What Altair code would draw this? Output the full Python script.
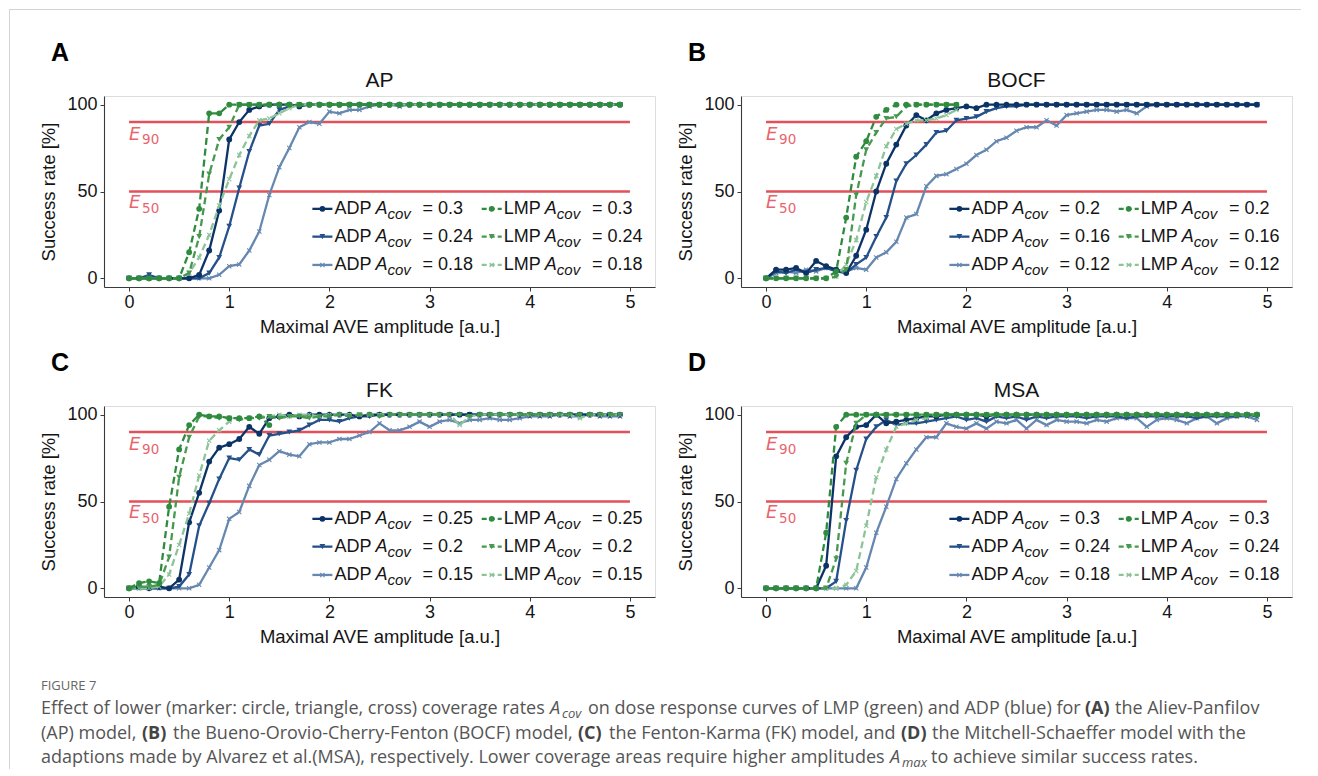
import altair as alt
import pandas as pd

# ---------------- data ----------------
X = [0.0, 0.1, 0.2, 0.3, 0.4, 0.5, 0.6, 0.7, 0.8, 0.9,
     1.0, 1.1, 1.2, 1.3, 1.4, 1.5, 1.6, 1.7, 1.8, 1.9,
     2.0, 2.1, 2.2, 2.3, 2.4, 2.5, 2.6, 2.7, 2.8, 2.9,
     3.0, 3.1, 3.2, 3.3, 3.4, 3.5, 3.6, 3.7, 3.8, 3.9,
     4.0, 4.1, 4.2, 4.3, 4.4, 4.5, 4.6, 4.7, 4.8, 4.9]

# Panel A: AP
AP_COV = ["0.3", "0.24", "0.18"]
AP_ADP_HI = [0, 0, 0, 0, 0, 0, 0, 2, 16, 39,
             80, 90, 97, 99, 100, 100, 100, 99, 100, 100,
             100, 100, 100, 100, 100, 100, 100, 100, 100, 100,
             100, 100, 100, 100, 100, 100, 100, 100, 100, 100,
             100, 100, 100, 100, 100, 100, 100, 100, 100, 100]
AP_ADP_MID = [0, 0, 2, 0, 0, 0, 0, 0, 3, 12,
              30, 52, 73, 88, 89, 97, 99, 100, 100, 100,
              100, 100, 100, 100, 100, 100, 100, 100, 100, 100,
              100, 100, 100, 100, 100, 100, 100, 100, 100, 100,
              100, 100, 100, 100, 100, 100, 100, 100, 100, 100]
AP_ADP_LO = [0, 0, 0, 0, 0, 0, 0, 0, 0, 2,
             7, 8, 16, 27, 48, 64, 75, 87, 90, 89,
             96, 95, 97, 97, 99, 100, 100, 99, 100, 100,
             100, 100, 100, 100, 100, 100, 100, 100, 100, 100,
             100, 100, 100, 100, 100, 100, 100, 100, 100, 100]
AP_LMP_HI = [0, 0, 0, 0, 0, 0, 15, 40, 95, 95,
             100, 100, 100, 100, 100, 100, 100, 100, 100, 100,
             100, 100, 100, 100, 100, 100, 100, 100, 100, 100,
             100, 100, 100, 100, 100, 100, 100, 100, 100, 100,
             100, 100, 100, 100, 100, 100, 100, 100, 100, 100]
AP_LMP_MID = [0, 0, 0, 0, 0, 0, 3, 24, 60, 80,
              87, 100, 100, 100, 100, 100, 100, 100, 100, 100,
              100, 100, 100, 100, 100, 100, 100, 100, 100, 100,
              100, 100, 100, 100, 100, 100, 100, 100, 100, 100,
              100, 100, 100, 100, 100, 100, 100, 100, 100, 100]
AP_LMP_LO = [0, 0, 0, 0, 0, 0, 3, 12, 25, 42,
             57, 71, 82, 91, 92, 95, 98, 100, 100, 100,
             100, 100, 100, 100, 100, 100, 100, 100, 100, 100,
             100, 100, 100, 100, 100, 100, 100, 100, 100, 100,
             100, 100, 100, 100, 100, 100, 100, 100, 100, 100]

# Panel B: BOCF
BO_COV = ["0.2", "0.16", "0.12"]
BO_ADP_HI = [0, 5, 5, 6, 3, 10, 7, 5, 3, 13,
             28, 50, 66, 77, 88, 94, 91, 95, 97, 98,
             99, 98, 100, 100, 100, 100, 100, 100, 100, 100,
             100, 100, 100, 100, 100, 100, 100, 100, 100, 100,
             100, 100, 100, 100, 100, 100, 100, 100, 100, 100]
BO_ADP_MID = [0, 4, 3, 5, 3, 5, 6, 4, 3, 8,
              12, 24, 35, 56, 66, 71, 77, 84, 85, 91,
              92, 93, 96, 98, 99, 99, 100, 100, 100, 100,
              100, 100, 100, 100, 100, 100, 100, 100, 100, 100,
              100, 100, 100, 100, 100, 100, 100, 100, 100, 100]
BO_ADP_LO = [0, 3, 4, 3, 5, 4, 6, 5, 4, 6,
             5, 12, 15, 21, 35, 37, 53, 59, 60, 63,
             66, 71, 74, 79, 81, 85, 87, 87, 91, 88,
             94, 95, 96, 97, 97, 96, 97, 95, 99, 100,
             100, 100, 100, 100, 100, 100, 100, 100, 100, 100]
BO_LMP_HI = [0, 0, 0, 0, 0, 0, 0, 4, 35, 70,
             79, 93, 97, 100, 100, 100, 100, 100, 100, 100]
BO_LMP_MID = [0, 0, 0, 0, 0, 0, 0, 1, 5, 48,
              74, 84, 92, 93, 99, 100, 100, 100, 100, 100]
BO_LMP_LO = [0, 0, 0, 0, 0, 0, 0, 1, 8, 22,
             44, 59, 76, 86, 89, 91, 91, 92, 94, 97]

# Panel C: FK
FK_COV = ["0.25", "0.2", "0.15"]
FK_ADP_HI = [0, 1, 0, 1, 0, 5, 38, 55, 73, 81,
             83, 86, 93, 89, 98, 99, 100, 99, 100, 100,
             100, 100, 100, 99, 100, 100, 100, 100, 100, 100,
             100, 100, 100, 100, 100, 100, 100, 100, 100, 100,
             100, 100, 100, 100, 100, 100, 100, 100, 100, 100]
FK_ADP_MID = [0, 0, 0, 0, 0, 1, 8, 36, 49, 63,
              75, 74, 80, 77, 88, 89, 90, 91, 94, 97,
              97, 96, 98, 99, 99, 100, 100, 100, 100, 100,
              100, 100, 100, 100, 100, 100, 100, 100, 100, 100,
              100, 100, 100, 100, 100, 100, 100, 100, 100, 100]
FK_ADP_LO = [0, 0, 0, 0, 0, 0, 0, 2, 12, 22,
             40, 44, 59, 71, 74, 79, 77, 76, 83, 84,
             84, 86, 86, 88, 90, 95, 91, 91, 93, 96,
             93, 96, 97, 95, 97, 97, 98, 97, 97, 98,
             99, 99, 99, 100, 99, 99, 100, 99, 99, 99]
FK_LMP_HI = [0, 3, 4, 3, 47, 80, 94, 100, 99, 99,
             98, 98, 98, 99, 94]
FK_LMP_MID = [0, 1, 1, 2, 18, 64, 87, 99, 99, 98,
              98, 97, 98, 98, 99, 98, 99, 99, 98, 99,
              99, 100, 99, 100, 100, 99, 100, 100, 100, 100,
              100, 100, 100, 100, 99, 100, 100, 100, 100, 100,
              100, 100, 100, 100, 100, 100, 100, 100, 100, 100]
FK_LMP_LO = [0, 0, 0, 1, 8, 25, 43, 65, 85, 91,
             96, 98, 98, 99, 99, 100, 99, 100, 100, 99,
             100, 100, 100, 100, 100, 100, 100, 100, 100, 100,
             100, 100, 100, 94, 99, 100, 100, 100, 100, 100,
             100, 100, 100, 100, 100, 98, 100, 100, 100, 100]

# Panel D: MSA
MS_COV = ["0.3", "0.24", "0.18"]
MS_ADP_HI = [0, 0, 0, 0, 0, 0, 13, 76, 87, 93,
             94, 100, 95, 96, 97, 98, 99, 99, 100, 100,
             100, 100, 99, 100, 100, 100, 100, 100, 100, 100,
             100, 100, 100, 100, 100, 100, 100, 100, 100, 100,
             100, 100, 100, 100, 100, 100, 100, 100, 100, 100]
MS_ADP_MID = [0, 0, 0, 0, 0, 0, 0, 4, 39, 68,
              86, 93, 97, 94, 95, 95, 96, 97, 98, 99,
              97, 98, 96, 99, 98, 99, 97, 99, 98, 99,
              99, 99, 98, 99, 99, 99, 98, 99, 99, 99,
              99, 99, 99, 98, 99, 99, 99, 99, 100, 99]
MS_ADP_LO = [0, 0, 0, 0, 0, 0, 0, 0, 0, 0,
             12, 32, 47, 63, 72, 80, 87, 87, 95, 93,
             92, 95, 92, 96, 95, 97, 92, 97, 94, 97,
             96, 96, 95, 97, 96, 98, 98, 98, 93, 97,
             98, 97, 95, 98, 99, 95, 98, 99, 99, 97]
MS_LMP_HI = [0, 0, 0, 0, 0, 0, 32, 93, 100, 100,
             100, 100, 100, 100, 100, 100, 100, 100, 100, 100,
             100, 100, 100, 100, 100, 100, 100, 100, 100, 100,
             100, 100, 100, 100, 100, 100, 100, 100, 100, 100,
             100, 100, 100, 100, 100, 100, 100, 100, 100, 100]
MS_LMP_MID = [0, 0, 0, 0, 0, 0, 0, 17, 72, 95,
              100, 100, 100, 100, 100, 100, 100, 100, 100, 100,
              100, 100, 100, 100, 100, 100, 100, 100, 100, 100,
              100, 100, 100, 100, 100, 100, 100, 100, 100, 100,
              100, 100, 100, 100, 100, 100, 100, 100, 100, 100]
MS_LMP_LO = [0, 0, 0, 0, 0, 0, 0, 0, 2, 10,
             36, 64, 80, 93, 95, 97, 98, 100, 100, 100,
             100, 100, 100, 100, 100, 100, 100, 100, 100, 100,
             100, 100, 100, 100, 100, 100, 100, 100, 100, 100,
             100, 100, 100, 100, 100, 100, 100, 100, 100, 100]

THRESHOLDS = [90, 50]
THRESHOLD_LABELS = ["90", "50"]

CAP_TEXT = ["FIGURE 7",
            "Effect of lower (marker: circle, triangle, cross) coverage rates", "A", "cov",
            "on dose response curves of LMP (green) and ADP (blue) for", "(A)", "the Aliev-Panfilov",
            "(AP) model,", "(B)", "the Bueno-Orovio-Cherry-Fenton (BOCF) model,", "(C)",
            "the Fenton-Karma (FK) model, and", "(D)", "the Mitchell-Schaeffer model with the",
            "adaptions made by Alvarez et al.(MSA), respectively. Lower coverage areas require higher amplitudes",
            "A", "max", "to achieve similar success rates."]

# ---------------- styling / layout ----------------
FONT = "Liberation Sans"
CAP_FONT = "Open Sans"
RED = "#e2505a"
RED_TXT = "#e8646d"
AXIS_COL = "#3a3a3a"
TXT = "#151515"
ADP_COLORS = ["#0c3366", "#255089", "#6688b0"]
LMP_COLORS = ["#2f8c3f", "#46994f", "#8cc498"]
X_PATH = "M-1,-1L1,1M-1,1L1,-1"
PW, PH = 551, 191
A_ORIGIN = (103, 95)
C_ORIGIN = (103, 405)

CAP_STYLE = ["fig", "n", "i", "s", "n", "b", "n",
             "n", "b", "n", "b", "n", "b", "n",
             "n", "i", "s", "n"]
CAP_PX = [40, 40, 549, 561, 587, 1084, 1114,
          40, 141, 172, 577, 608, 900, 931,
          40, 889, 901, 930]
CAP_PY = [685, 708, 708, 708, 708, 708, 708,
          733, 733, 733, 733, 733, 733, 733,
          757, 757, 757, 757]

XS = alt.Scale(domain=[-0.25, 5.25], nice=False, zero=False)
YS = alt.Scale(domain=[-5, 105], nice=False, zero=False)

X_ENC = alt.X("x:Q", scale=XS, axis=alt.Axis(
    values=[0, 1, 2, 3, 4, 5], format="d", title="Maximal AVE amplitude [a.u.]",
    grid=False, domainColor=AXIS_COL, tickColor=AXIS_COL, domainWidth=1.1,
    tickSize=4, labelPadding=2, titlePadding=6, labelFontSize=18, titleFontSize=18.5,
    labelFont=FONT, titleFont=FONT, labelColor=TXT, titleColor=TXT,
    titleFontWeight="normal"))
Y_ENC = alt.Y("y:Q", scale=YS, axis=alt.Axis(
    values=[0, 50, 100], format="d", title="Success rate [%]",
    grid=False, domainColor=AXIS_COL, tickColor=AXIS_COL, domainWidth=1.1,
    tickSize=4, labelPadding=3, titlePadding=8, labelFontSize=18, titleFontSize=18.5,
    labelFont=FONT, titleFont=FONT, labelColor=TXT, titleColor=TXT,
    titleFontWeight="normal"))

LEG_ROWS = [40, 24, 7.7]
LEG_TEXT_X = [2.05, 3.74]
LEG_SYM = [(1.83, 2.03, 1.93), (3.52, 3.72, 3.62)]


def point_layer(df, i, col):
    if i == 0:
        m = alt.Chart(df).mark_point(shape="circle", filled=True, size=34, color=col, opacity=1)
    elif i == 1:
        m = alt.Chart(df).mark_point(shape="triangle-down", filled=True, size=34, color=col, opacity=1)
    else:
        m = alt.Chart(df).mark_point(shape=X_PATH, filled=False, size=18, color=col,
                                     strokeWidth=1.1, opacity=1)
    return m.encode(x=X_ENC, y=Y_ENC)


def text_at(t, px, py, **kw):
    return alt.Chart(pd.DataFrame({"t": [t]})).mark_text(**kw).encode(
        text="t:N", x=alt.value(px), y=alt.value(py))


def panel(name, letter, covs, adp, lmp, extra=None):
    layers = []
    if extra:
        layers.extend(extra)
    hl = pd.DataFrame({"x": [0, 0], "x2": [5, 5], "y": THRESHOLDS})
    layers.append(alt.Chart(hl).mark_rule(color=RED, strokeWidth=2.6).encode(
        x=X_ENC, x2="x2:Q", y=Y_ENC))
    e_df = pd.DataFrame({"x": [0.0, 0.0], "y": [82.8, 43.3], "t": ["E", "E"]})
    layers.append(alt.Chart(e_df).mark_text(
        align="left", baseline="middle", font="DejaVu Sans", fontStyle="italic",
        fontSize=18, color=RED_TXT).encode(x=X_ENC, y=Y_ENC, text="t:N"))
    s_df = pd.DataFrame({"x": [0.13, 0.13], "y": [80.8, 41.3], "t": THRESHOLD_LABELS})
    layers.append(alt.Chart(s_df).mark_text(
        align="left", baseline="middle", font="DejaVu Sans", fontSize=13.5,
        color=RED_TXT, dy=2).encode(x=X_ENC, y=Y_ENC, text="t:N"))

    order = [("ADP", 2), ("ADP", 1), ("ADP", 0), ("LMP", 2), ("LMP", 1), ("LMP", 0)]
    for grp, i in order:
        vals = adp[i] if grp == "ADP" else lmp[i]
        df = pd.DataFrame({"x": X[:len(vals)], "y": vals})
        col = ADP_COLORS[i] if grp == "ADP" else LMP_COLORS[i]
        kw = dict(color=col, strokeWidth=2.3)
        if grp == "LMP":
            kw["strokeDash"] = [7, 4]
        layers.append(alt.Chart(df).mark_line(**kw).encode(x=X_ENC, y=Y_ENC))
        layers.append(point_layer(df, i, col))

    # manual legend inside the plot
    names, ax, ay, eqs = [], [], [], []
    for c, grp in enumerate(["ADP", "LMP"]):
        x1, x2, xm = LEG_SYM[c]
        for i in range(3):
            col = ADP_COLORS[i] if grp == "ADP" else LMP_COLORS[i]
            sym = pd.DataFrame({"x": [x1], "x2": [x2], "y": [LEG_ROWS[i]]})
            kw = dict(color=col, strokeWidth=2.3)
            if grp == "LMP":
                kw["strokeDash"] = [5, 3]
            layers.append(alt.Chart(sym).mark_rule(**kw).encode(x=X_ENC, x2="x2:Q", y=Y_ENC))
            layers.append(point_layer(pd.DataFrame({"x": [xm], "y": [LEG_ROWS[i]]}), i, col))
            names.append(grp)
            ax.append(LEG_TEXT_X[c])
            ay.append(LEG_ROWS[i])
            eqs.append("= " + covs[i])
    ax = pd.Series(ax)
    base_kw = dict(align="left", baseline="middle", font=FONT, color=TXT)
    layers.append(alt.Chart(pd.DataFrame({"x": ax, "y": ay, "t": names})).mark_text(
        fontSize=18, **base_kw).encode(x=X_ENC, y=Y_ENC, text="t:N"))
    layers.append(alt.Chart(pd.DataFrame({"x": ax + 0.41, "y": ay, "t": ["A"] * 6})).mark_text(
        fontSize=18, fontStyle="italic", **base_kw).encode(x=X_ENC, y=Y_ENC, text="t:N"))
    layers.append(alt.Chart(pd.DataFrame({"x": ax + 0.53, "y": ay, "t": ["cov"] * 6})).mark_text(
        fontSize=15, fontStyle="italic", dy=5, **base_kw).encode(x=X_ENC, y=Y_ENC, text="t:N"))
    layers.append(alt.Chart(pd.DataFrame({"x": ax + 0.88, "y": ay, "t": eqs})).mark_text(
        fontSize=18, **base_kw).encode(x=X_ENC, y=Y_ENC, text="t:N"))

    # panel letter and title
    layers.append(text_at(letter, -53, -43, align="left", baseline="middle", font=FONT,
                          fontSize=25, fontWeight="bold", color="#000000"))
    layers.append(text_at(name, PW / 2, -15, align="center", baseline="middle", font=FONT,
                          fontSize=21, color=TXT))
    return alt.layer(*layers).properties(width=PW, height=PH)


# figure frame (thin grey top and left border), attached to panel A
ox, oy = A_ORIGIN
frame_layers = [
    alt.Chart(pd.DataFrame({"k": [0]})).mark_rule(color="#d4d4d4", strokeWidth=1).encode(
        x=alt.value(8 - ox), x2=alt.value(1300 - ox), y=alt.value(8.5 - oy)),
    alt.Chart(pd.DataFrame({"k": [0]})).mark_rule(color="#d4d4d4", strokeWidth=1).encode(
        x=alt.value(8.5 - ox), y=alt.value(8 - oy), y2=alt.value(768 - oy)),
]

# caption (text marks attached to panel C, positioned in page pixels)
style_kw = {
    "fig": dict(fontSize=13, color="#666666"),
    "n": dict(fontSize=18, color="#555555"),
    "b": dict(fontSize=18, color="#444444", fontWeight="bold"),
    "i": dict(fontSize=18, color="#555555", fontStyle="italic"),
    "s": dict(fontSize=13, color="#555555", fontStyle="italic", dy=5),
}
caption_layers = []
for t, s, px, py in zip(CAP_TEXT, CAP_STYLE, CAP_PX, CAP_PY):
    caption_layers.append(text_at(t, px - C_ORIGIN[0], py - C_ORIGIN[1], align="left",
                                  baseline="middle", font=CAP_FONT, **style_kw[s]))

pA = panel("AP", "A", AP_COV, [AP_ADP_HI, AP_ADP_MID, AP_ADP_LO], [AP_LMP_HI, AP_LMP_MID, AP_LMP_LO],
           extra=frame_layers)
pB = panel("BOCF", "B", BO_COV, [BO_ADP_HI, BO_ADP_MID, BO_ADP_LO], [BO_LMP_HI, BO_LMP_MID, BO_LMP_LO])
pC = panel("FK", "C", FK_COV, [FK_ADP_HI, FK_ADP_MID, FK_ADP_LO], [FK_LMP_HI, FK_LMP_MID, FK_LMP_LO],
           extra=caption_layers)
pD = panel("MSA", "D", MS_COV, [MS_ADP_HI, MS_ADP_MID, MS_ADP_LO], [MS_LMP_HI, MS_LMP_MID, MS_LMP_LO])

chart = alt.concat(pA, pB, pC, pD, columns=2, spacing={"row": 119, "column": 86},
                   bounds="flush").configure_view(strokeWidth=0).configure(
    padding={"left": 0, "top": 0, "right": 0, "bottom": 0}, background="#ffffff")

chart.save("out.html", embed_options={"renderer": "svg", "actions": False})
